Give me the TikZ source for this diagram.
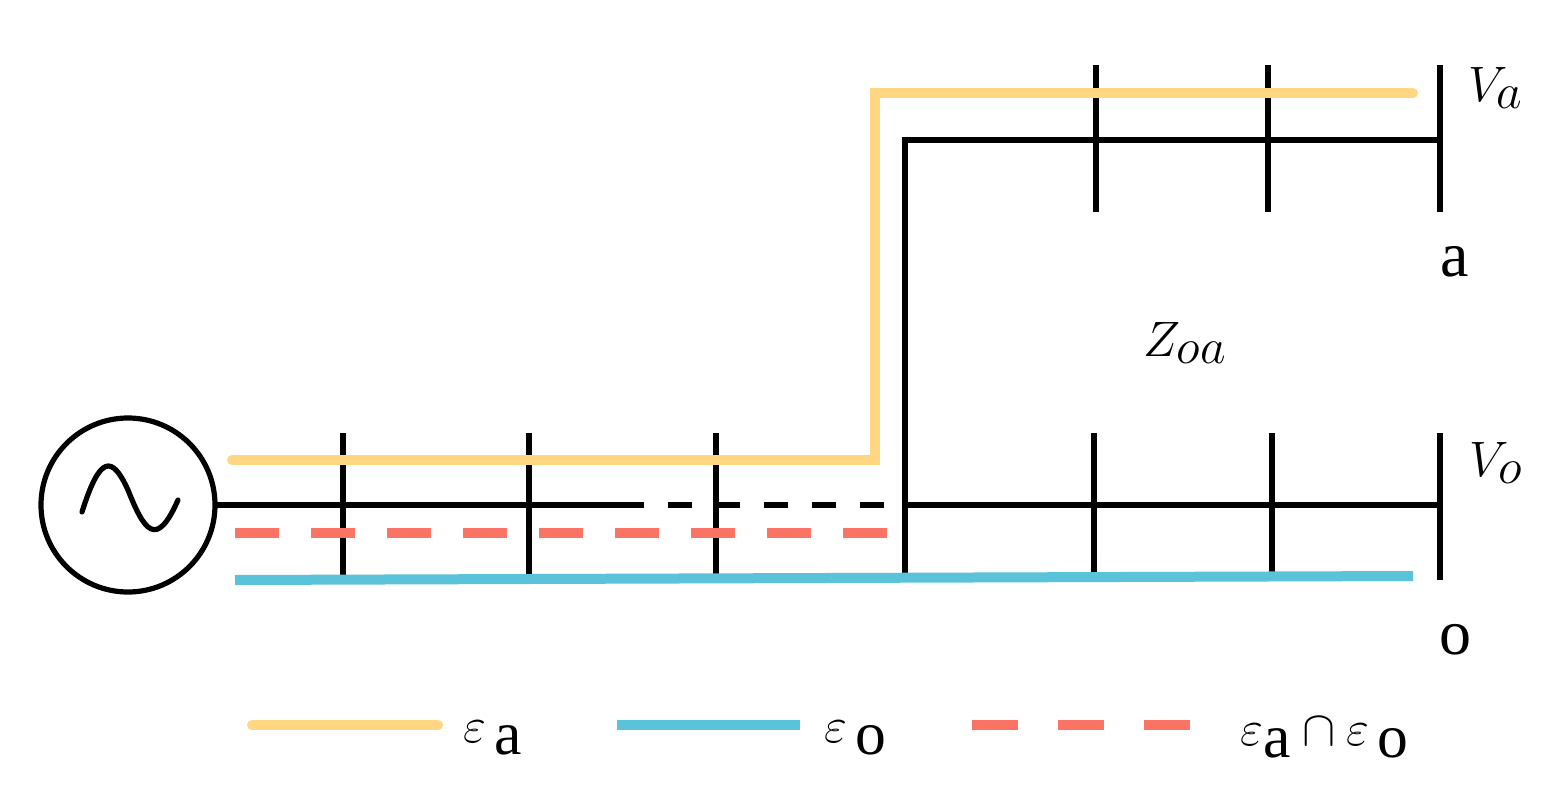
\documentclass[tikz,border=0pt]{standalone}
\usepackage{fontspec}
\setmainfont{Liberation Serif}
\begin{document}
\begin{tikzpicture}[x=0.5pt,y=-0.5pt,
  blk/.style={line width=2.6pt,black},
  ylw/.style={line width=5pt,color={rgb,255:red,255;green,215;blue,130},line cap=round},
  blu/.style={line width=5pt,color={rgb,255:red,90;green,195;blue,218}},
  red/.style={line width=5pt,color={rgb,255:red,250;green,115;blue,100},dash pattern=on 22pt off 16pt},
  lbl/.style={font=\fontsize{32}{34}\selectfont},
  mlbl/.style={font=\fontsize{44}{46}\selectfont}]
\useasboundingbox (0,0) rectangle (1561,792);
% source
\node[draw,circle,line width=2.6pt,minimum size=87pt,inner sep=0] (src) at (128,505) {};
\draw[blk,line cap=round] (82,512) .. controls (100,455) and (112,455) .. (128,490) .. controls (144,530) and (156,550) .. (178,500);
% black network
\coordinate (p0) at (215,505);
\coordinate (p1) at (620,505);
\coordinate (p2) at (905,505);
\coordinate (p3) at (1440,505);
\coordinate (t0) at (905,140);
\coordinate (t1) at (1440,140);
\draw[blk] (p0) -- (p1);
\draw[blk,dash pattern=on 12pt off 12pt] (p1) -- (p2);
\draw[blk] (p2) -- (p3);
\draw[blk] (905,578) -- (t0) -- (t1);
\foreach \x in {343,529,716,1094,1272} \draw[blk] (\x,433) -- (\x,578);
\foreach \x in {1096,1268} \draw[blk] (\x,65) -- (\x,212);
\draw[blk] (1440,65) -- (1440,212);
\draw[blk] (1440,433) -- (1440,580);
% colored paths
\draw[ylw] (232,460) -- (875,460) -- (875,93) -- (1413,93);
\draw[red] (235,533) -- (890,533);
\draw[blu] (235,580) -- (1413,576);
% labels
\node[mlbl] (va) at (1496,88) {$V_a$};
\node[lbl] (la) at (1455,262) {a};
\node[mlbl] (z) at (1185,343) {$Z_{oa}$};
\node[mlbl] (vo) at (1496,463) {$V_o$};
\node[lbl] (lo) at (1455,640) {o};
% legend
\draw[ylw] (252,725) -- (438,725);
\node[mlbl] (la1) at (493,738) {$\varepsilon_{\,\mathrm{a}}$};
\draw[blu] (617,725) -- (800,725);
\node[mlbl] (lo1) at (856,738) {$\varepsilon_{\,\mathrm{o}}$};
\draw[red,dash pattern=on 23pt off 20pt] (972,725) -- (1195,725);
\node[mlbl] (lao) at (1325,738) {$\varepsilon_{\mathrm{a}}\cap\varepsilon_{\,\mathrm{o}}$};
\end{tikzpicture}
\end{document}
